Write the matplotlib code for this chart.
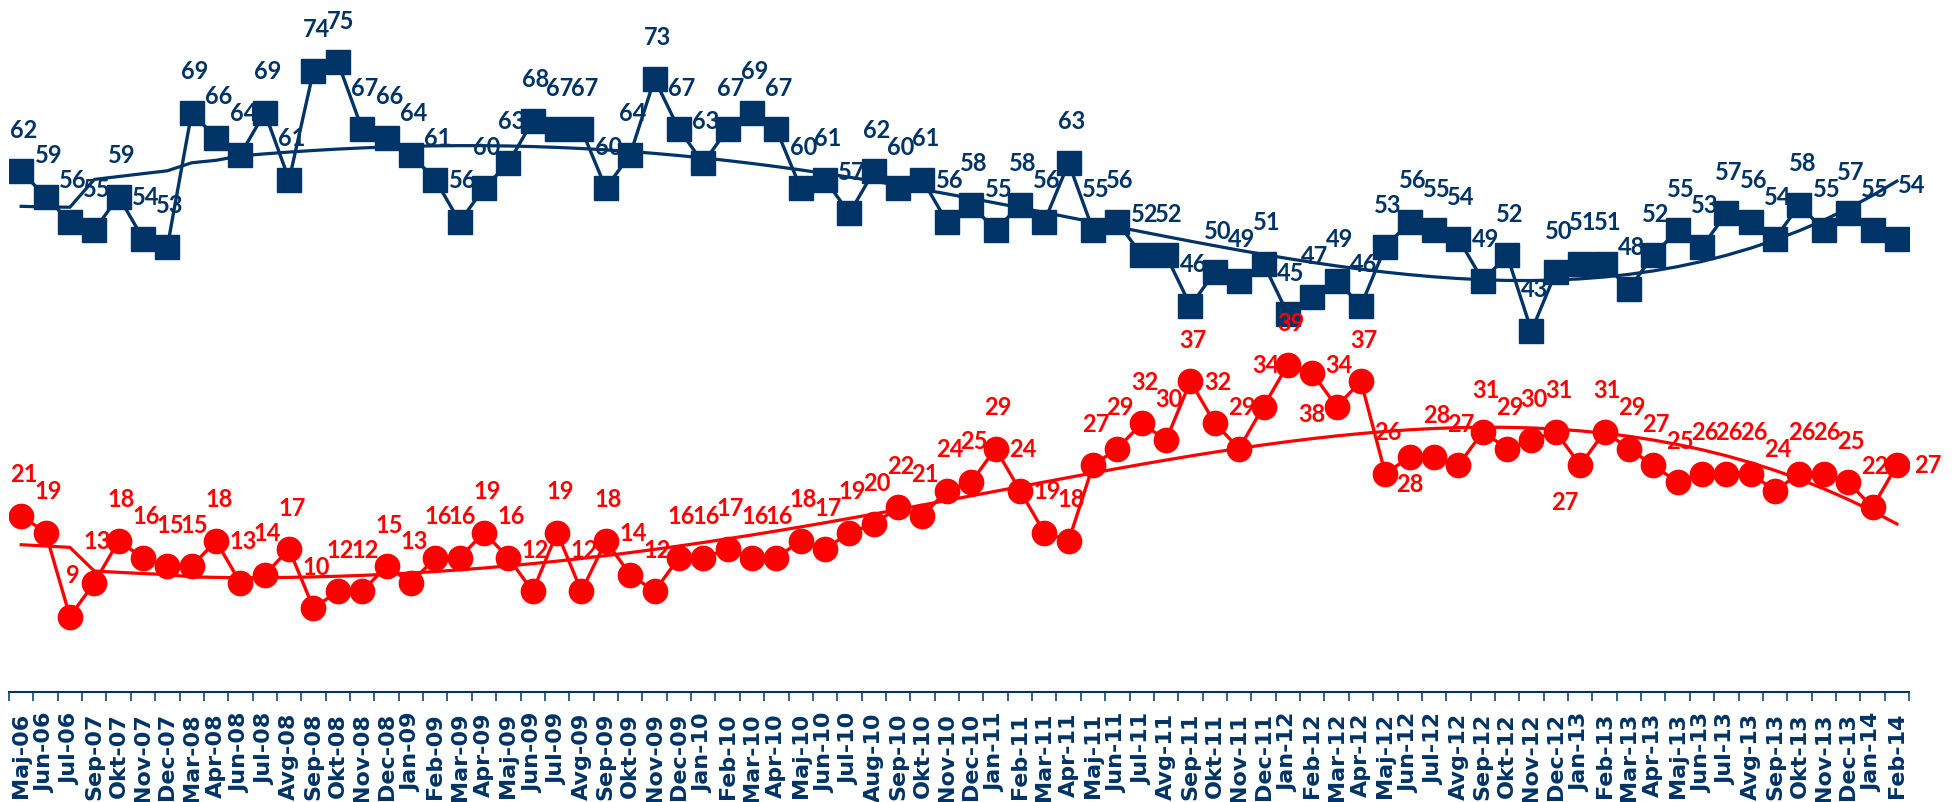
import numpy as np
import matplotlib.pyplot as plt

months = ['Maj-06', 'Jun-06', 'Jul-06', 'Sep-07', 'Okt-07', 'Nov-07', 'Dec-07',
          'Mar-08', 'Apr-08', 'Jun-08', 'Jul-08', 'Avg-08', 'Sep-08', 'Okt-08',
          'Nov-08', 'Dec-08', 'Jan-09', 'Feb-09', 'Mar-09', 'Apr-09', 'Maj-09',
          'Jun-09', 'Jul-09', 'Avg-09', 'Sep-09', 'Okt-09', 'Nov-09', 'Dec-09',
          'Jan-10', 'Feb-10', 'Mar-10', 'Apr-10', 'Maj-10', 'Jun-10', 'Jul-10',
          'Aug-10', 'Sep-10', 'Okt-10', 'Nov-10', 'Dec-10', 'Jan-11', 'Feb-11',
          'Mar-11', 'Apr-11', 'Maj-11', 'Jun-11', 'Jul-11', 'Avg-11', 'Sep-11',
          'Okt-11', 'Nov-11', 'Dec-11', 'Jan-12', 'Feb-12', 'Mar-12', 'Apr-12',
          'Maj-12', 'Jun-12', 'Jul-12', 'Avg-12', 'Sep-12', 'Okt-12', 'Nov-12',
          'Dec-12', 'Jan-13', 'Feb-13', 'Mar-13', 'Apr-13', 'Maj-13', 'Jun-13',
          'Jul-13', 'Avg-13', 'Sep-13', 'Okt-13', 'Nov-13', 'Dec-13', 'Jan-14',
          'Feb-14']

# modra serija (kvadrati)
blue = [62, 59, 56, 55, 59, 54, 53, 69, 66, 64, 69, 61, 74, 75, 67, 66, 64,
        61, 56, 60, 63, 68, 67, 67, 60, 64, 73, 67, 63, 67, 69, 67, 60, 61,
        57, 62, 60, 61, 56, 58, 55, 58, 56, 63, 55, 56, 52, 52, 46, 50, 49,
        51, 45, 47, 49, 46, 53, 56, 55, 54, 49, 52, 43, 50, 51, 51, 48, 52,
        55, 53, 57, 56, 54, 58, 55, 57, 55, 54]

# rdeca serija (krogi)
red = [21, 19, 9, 13, 18, 16, 15, 15, 18, 13, 14, 17, 10, 12, 12, 15, 13, 16,
       16, 19, 16, 12, 19, 12, 18, 14, 12, 16, 16, 17, 16, 16, 18, 17, 19, 20,
       22, 21, 24, 25, 29, 24, 19, 18, 27, 29, 32, 30, 37, 32, 29, 34, 39, 38,
       34, 37, 26, 28, 28, 27, 31, 29, 30, 31, 27, 31, 29, 27, 25, 26, 26, 26,
       24, 26, 26, 25, 22, 27]

navy = '#003366'
rd = '#ff0000'

# mesec kot stevilka (za trend po casu)
mnames = {'Jan': 1, 'Feb': 2, 'Mar': 3, 'Apr': 4, 'Maj': 5, 'Jun': 6, 'Jul': 7,
          'Avg': 8, 'Aug': 8, 'Sep': 9, 'Okt': 10, 'Nov': 11, 'Dec': 12}
mon = np.array([int(m[4:]) * 12 + mnames[m[:3]] for m in months])

fig = plt.figure(figsize=(19.56, 8.02), dpi=100)
ax = fig.add_axes([0.0046, 0.137, 0.9714, 0.863])
x = np.arange(len(months))

# polinomski trend
tb = np.polyval(np.polyfit(mon, blue, 4), mon)
tr = np.polyval(np.polyfit(mon, red, 4), mon)

ax.plot(x, tb, color=navy, lw=2.3, zorder=2)
ax.plot(x, tr, color=rd, lw=2.3, zorder=2)
ax.plot(x, blue, color=navy, lw=2.4, marker='s', ms=17.3, zorder=3)
ax.plot(x, red, color=rd, lw=2.4, marker='o', ms=17.5, zorder=3)

lab_font = ['Lato', 'DejaVu Sans']
default_off = (2, 29.5)
blue_off = {77: (11, 38)}
red_off = {53: (0, -30), 57: (0, -20), 64: (-11, -27), 77: (22, 0)}

for i, v in enumerate(blue):
    ax.annotate(str(v), (x[i], v), xytext=blue_off.get(i, default_off),
                textcoords='offset points', ha='center', va='center',
                color=navy, fontsize=17, fontweight='bold', family=lab_font,
                zorder=4)
for i, v in enumerate(red):
    ax.annotate(str(v), (x[i], v), xytext=red_off.get(i, default_off),
                textcoords='offset points', ha='center', va='center',
                color=rd, fontsize=17, fontweight='bold', family=lab_font,
                zorder=4, annotation_clip=False)

ax.set_xlim(-0.5, len(months) - 0.5)
ax.set_ylim(0, 82.4)
ax.set_yticks([])
for s in ['top', 'right', 'left']:
    ax.spines[s].set_visible(False)
ax.spines['bottom'].set_color(navy)
ax.spines['bottom'].set_linewidth(1.5)

ax.set_xticks(x)
ax.set_xticklabels(months, rotation=90, fontsize=16, fontweight='bold',
                   color=navy, family='DejaVu Sans')
ax.tick_params(axis='x', which='major', length=0, pad=15)
ax.set_xticks(np.arange(-0.5, len(months)), minor=True)
ax.tick_params(axis='x', which='minor', length=6.5, width=1.1, color=navy)

fig.savefig('out.png', dpi=100)
